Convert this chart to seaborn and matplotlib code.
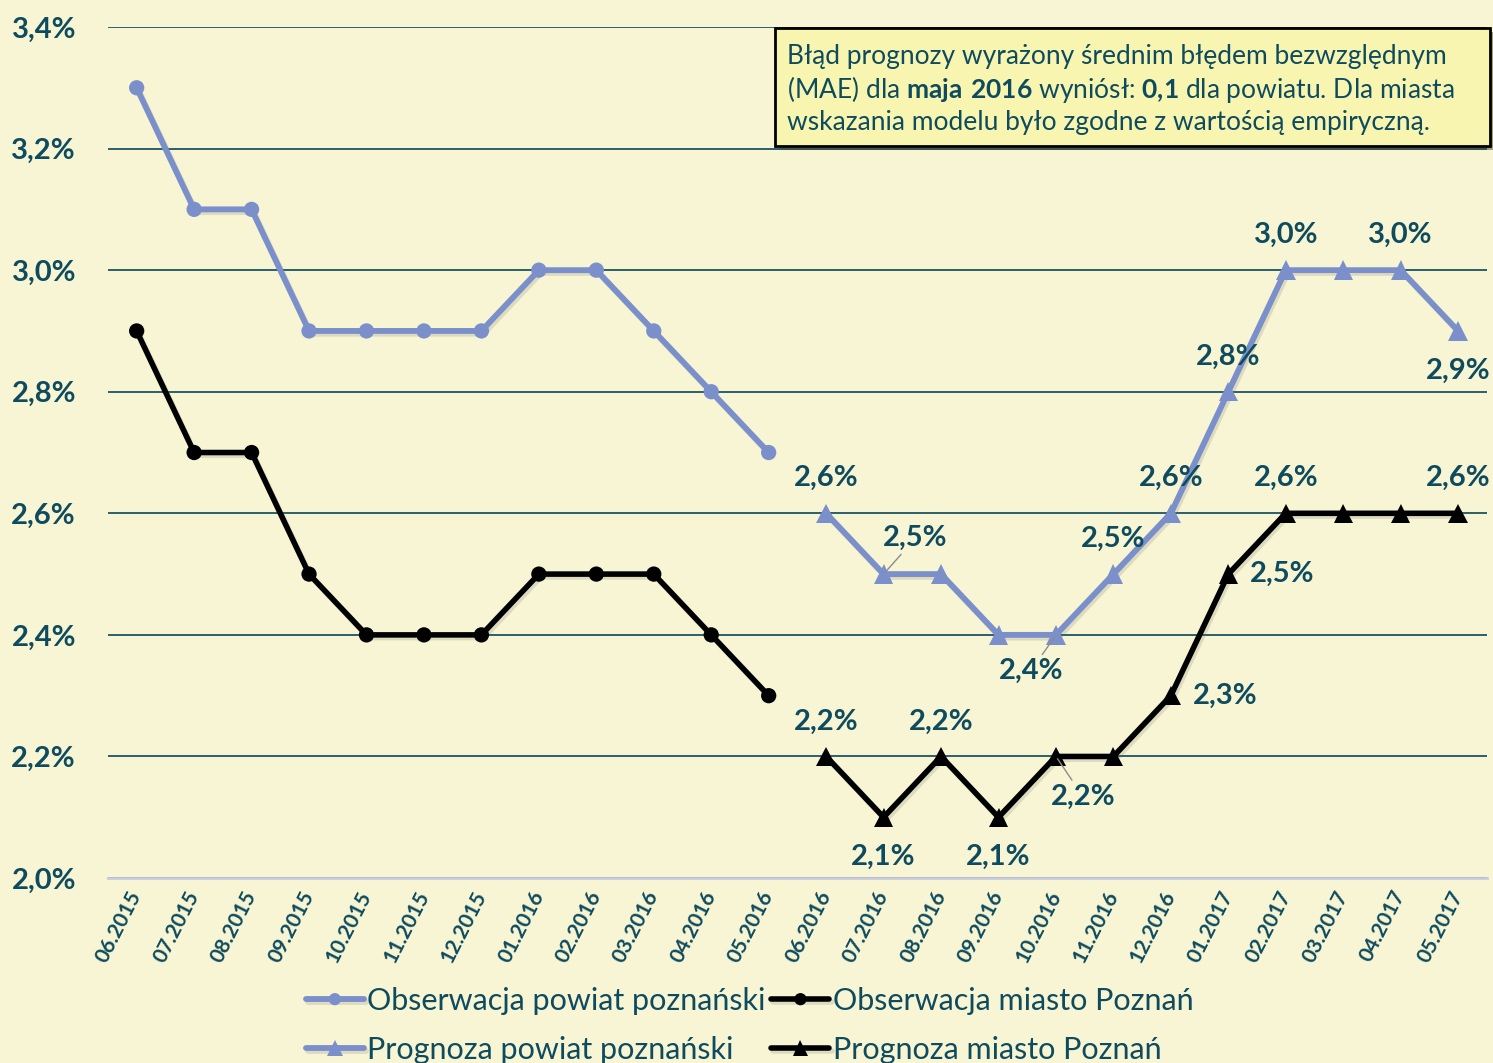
import numpy as np
import pandas as pd
import matplotlib.pyplot as plt
import matplotlib.patheffects as pe
from matplotlib.patches import Rectangle
import seaborn as sns

months = ['06.2015', '07.2015', '08.2015', '09.2015', '10.2015', '11.2015',
          '12.2015', '01.2016', '02.2016', '03.2016', '04.2016', '05.2016',
          '06.2016', '07.2016', '08.2016', '09.2016', '10.2016', '11.2016',
          '12.2016', '01.2017', '02.2017', '03.2017', '04.2017', '05.2017']

# observed (06.2015 - 05.2016)
obs_powiat = [3.3, 3.1, 3.1, 2.9, 2.9, 2.9, 2.9, 3.0, 3.0, 2.9, 2.8, 2.7]
obs_miasto = [2.9, 2.7, 2.7, 2.5, 2.4, 2.4, 2.4, 2.5, 2.5, 2.5, 2.4, 2.3]
# forecast (06.2016 - 05.2017)
prog_powiat = [2.6, 2.5, 2.5, 2.4, 2.4, 2.5, 2.6, 2.8, 3.0, 3.0, 3.0, 2.9]
prog_miasto = [2.2, 2.1, 2.2, 2.1, 2.2, 2.2, 2.3, 2.5, 2.6, 2.6, 2.6, 2.6]

legend_names = ['Obserwacja powiat poznański', 'Obserwacja miasto Poznań',
                'Prognoza powiat poznański', 'Prognoza miasto Poznań']

# which forecast points carry a value label, and where the label sits
labels_powiat = {0: 'up', 1: 'upright', 4: 'downleft', 5: 'up', 6: 'up',
                 7: 'up', 8: 'up', 10: 'up', 11: 'down'}
labels_miasto = {0: 'up', 1: 'down', 2: 'up', 3: 'down', 4: 'downright',
                 6: 'right', 7: 'right', 8: 'up', 11: 'up'}

BG = '#F7F5D3'
BLUE = '#7B8FCB'
TEAL = '#0F4B5F'
GRID = '#2B5F6C'

sns.set_style('white')
plt.rcParams['font.family'] = ['Lato', 'DejaVu Sans']
plt.rcParams['mathtext.fontset'] = 'custom'
plt.rcParams['mathtext.rm'] = 'Lato'
plt.rcParams['mathtext.bf'] = 'Lato:bold'

n_obs = len(obs_powiat)
df_obs = pd.DataFrame({'pos': np.arange(n_obs), 'powiat': obs_powiat, 'miasto': obs_miasto})
df_prog = pd.DataFrame({'pos': np.arange(n_obs, n_obs + len(prog_powiat)),
                        'powiat': prog_powiat, 'miasto': prog_miasto})

fig = plt.figure(figsize=(14.93, 10.63), dpi=100, facecolor=BG)
ax = fig.add_axes([0.0723, 0.174, 0.9236, 0.8006])
ax.set_facecolor(BG)

shadow = [pe.SimpleLineShadow(offset=(1.5, -2), shadow_color='#666666', alpha=0.18), pe.Normal()]

sns.lineplot(data=df_obs, x='pos', y='powiat', ax=ax, color=BLUE, lw=4.2, marker='o',
             markersize=11, markeredgecolor=BLUE, markeredgewidth=0,
             label=legend_names[0], path_effects=shadow, zorder=3)
sns.lineplot(data=df_obs, x='pos', y='miasto', ax=ax, color='black', lw=4.0, marker='o',
             markersize=11, markeredgecolor='black', markeredgewidth=0,
             label=legend_names[1], path_effects=shadow, zorder=3)
sns.lineplot(data=df_prog, x='pos', y='powiat', ax=ax, color=BLUE, lw=4.2, marker='^',
             markersize=14, markeredgecolor=BLUE, markeredgewidth=0,
             label=legend_names[2], path_effects=shadow, zorder=3)
sns.lineplot(data=df_prog, x='pos', y='miasto', ax=ax, color='black', lw=4.0, marker='^',
             markersize=14, markeredgecolor='black', markeredgewidth=0,
             label=legend_names[3], path_effects=shadow, zorder=3)

# value labels (offsets in pixels)
offsets = {'up': (0, 35), 'down': (0, -40), 'right': (54, 0),
           'upright': (32, 36), 'downleft': (-25, -36), 'downright': (27, -40)}
leader = {'upright', 'downleft', 'downright'}
for values, placements in [(prog_powiat, labels_powiat), (prog_miasto, labels_miasto)]:
    for i, where in placements.items():
        v = values[i]
        dx, dy = offsets[where]
        arrow = dict(arrowstyle='-', color='#8C8C8C', lw=1, shrinkA=0, shrinkB=2) if where in leader else None
        ax.annotate(f'{v:.1f}%'.replace('.', ','), (n_obs + i, v),
                    xytext=(dx * 0.72, dy * 0.72), textcoords='offset points',
                    ha='center', va='center', fontsize=21, fontweight='bold',
                    color=TEAL, arrowprops=arrow, zorder=5)

ax.set_xlim(-0.5, len(months) - 0.5)
ax.set_ylim(2.0, 3.4)
yt = np.round(np.arange(2.0, 3.41, 0.2), 1)
ax.set_yticks(yt)
ax.set_yticklabels([f'{v:.1f}%'.replace('.', ',') for v in yt])
ax.set_xticks(np.arange(len(months)))
ax.set_xticklabels(months, rotation=63, ha='right', va='center', rotation_mode='anchor')
ax.tick_params(axis='y', length=0, pad=23, labelsize=21, labelcolor=TEAL)
ax.tick_params(axis='x', length=0, pad=10, labelsize=15, labelcolor=TEAL)
for t in ax.get_yticklabels() + ax.get_xticklabels():
    t.set_fontweight('bold')
ax.set_xlabel('')
ax.set_ylabel('')
ax.grid(axis='y', color=GRID, lw=1.4)
ax.grid(axis='x', visible=False)
for side in ['top', 'left', 'right']:
    ax.spines[side].set_visible(False)
ax.spines['bottom'].set_color('#C9CCDD')
ax.spines['bottom'].set_linewidth(2)
ax.spines['bottom'].set_zorder(2.5)

# legend, two rows at the bottom
handles, labels = ax.get_legend_handles_labels()
if ax.get_legend() is not None:
    ax.get_legend().remove()
order = [0, 2, 1, 3]
leg = fig.legend([handles[k] for k in order], [labels[k] for k in order],
                 loc='center', bbox_to_anchor=(0.502, 0.0355), ncol=2, frameon=False,
                 fontsize=22, handlelength=1.9, handletextpad=0.1, columnspacing=0.2,
                 labelspacing=0.68, borderaxespad=0, markerscale=0.8)
for t in leg.get_texts():
    t.set_color(TEAL)

# info box
box = Rectangle((0.519, 0.8627), 0.479, 0.111, transform=fig.transFigure,
                facecolor='#F8F5B0', edgecolor='black', lw=2, zorder=4,
                path_effects=[pe.SimplePatchShadow(offset=(3, -3), alpha=0.5), pe.Normal()])
fig.patches.append(box)
box_lines = ['Błąd prognozy wyrażony średnim błędem bezwzględnym',
             r'(MAE) dla $\mathbf{maja\ 2016}$ wyniósł: $\mathbf{0{,}1}$ dla powiatu. Dla miasta',
             'wskazania modelu było zgodne z wartością empiryczną.']
for k, line in enumerate(box_lines):
    fig.text(0.527, 0.9465 - k * 0.031, line, fontsize=19, color=TEAL,
             ha='left', va='center', zorder=5)

fig.savefig('out.png', dpi=100, facecolor=BG)
